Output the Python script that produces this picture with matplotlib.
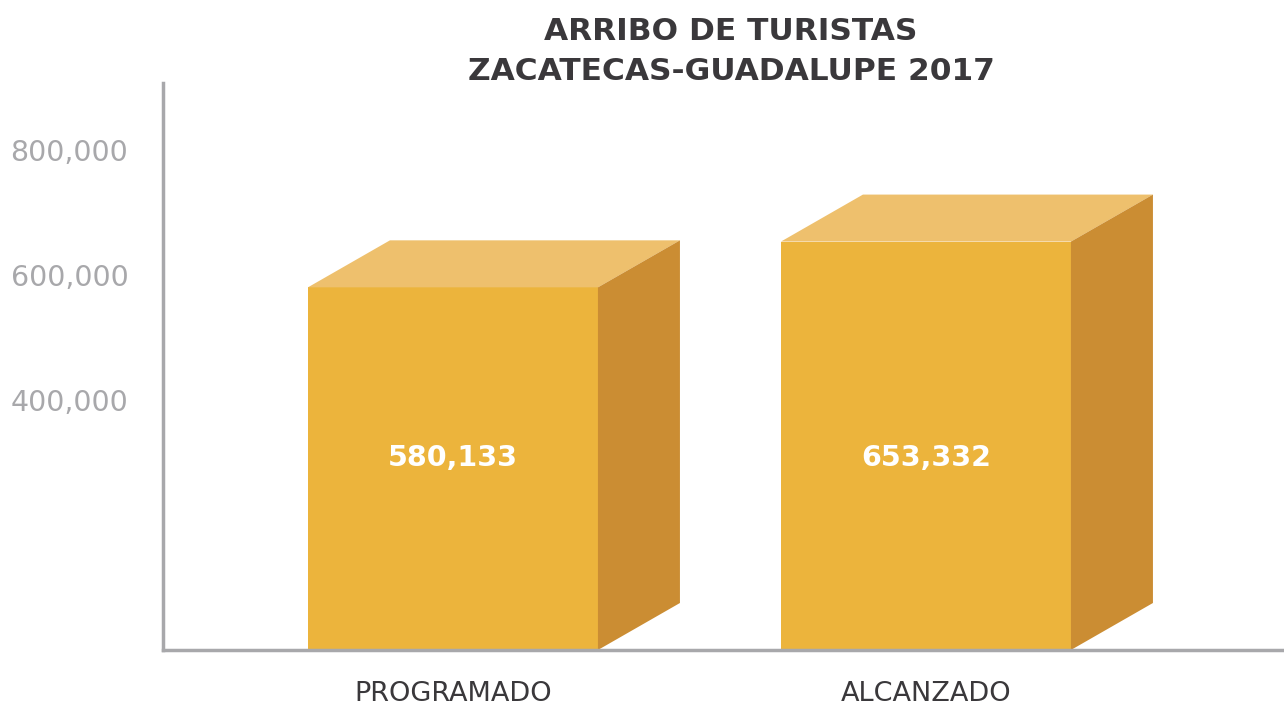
import matplotlib.pyplot as plt
from matplotlib.patches import Polygon

categories = ["PROGRAMADO", "ALCANZADO"]
values = [580133, 653332]
value_labels = ["580,133", "653,332"]
tick_values = [400000, 600000, 800000]
tick_labels = ["400,000", "600,000", "800,000"]

front_color = "#ECB43C"
top_color = "#EEC06D"
side_color = "#CB8D33"
axis_gray = "#A8A8AB"
text_dark = "#3A383B"

W, H, DPI = 1284, 707, 100
fig = plt.figure(figsize=(W / DPI, H / DPI), dpi=DPI)

# axes box in pixels: spine at x=163, baseline at y=650, top at y=83
left, bottom, top = 163, 650, 83
ax = fig.add_axes([left / W, (H - bottom) / H, (W - left) / W, (bottom - top) / H])

ymax = 907000
xmin, xmax = -0.613, 1.757
ax.set_xlim(xmin, xmax)
ax.set_ylim(0, ymax)

px_x = (W - left) / (xmax - xmin)     # pixels per x unit
px_y = (bottom - top) / ymax          # pixels per y unit
bar_w = 290 / px_x
dx = 82 / px_x
dy = 47 / px_y

for i, v in enumerate(values):
    x0 = i - bar_w / 2
    x1 = i + bar_w / 2
    ax.add_patch(Polygon([(x0, 0), (x1, 0), (x1, v), (x0, v)],
                         closed=True, facecolor=front_color, edgecolor="none"))
    ax.add_patch(Polygon([(x0, v), (x1, v), (x1 + dx, v + dy), (x0 + dx, v + dy)],
                         closed=True, facecolor=top_color, edgecolor="none"))
    ax.add_patch(Polygon([(x1, 0), (x1 + dx, dy), (x1 + dx, v + dy), (x1, v)],
                         closed=True, facecolor=side_color, edgecolor="none"))
    ax.text(i, 192 / px_y, value_labels[i], ha="center", va="center",
            color="white", fontsize=20.5, fontweight="bold")

for s in ["top", "right"]:
    ax.spines[s].set_visible(False)
for s in ["left", "bottom"]:
    ax.spines[s].set_color(axis_gray)
    ax.spines[s].set_linewidth(2.5)

ax.set_xticks(range(len(categories)))
ax.set_xticklabels(categories, color=text_dark, fontsize=19.5)
ax.set_yticks(tick_values)
ax.set_yticklabels(tick_labels, color=axis_gray, fontsize=20.5)
ax.tick_params(axis="x", length=0, pad=22)
ax.tick_params(axis="y", length=0, pad=25)

fig.text(731 / W, 1 - 32 / H, "ARRIBO DE TURISTAS", ha="center", va="center",
         fontsize=22.5, fontweight="bold", color=text_dark)
fig.text(731 / W, 1 - 72 / H, "ZACATECAS-GUADALUPE 2017", ha="center", va="center",
         fontsize=22.5, fontweight="bold", color=text_dark)

fig.savefig("out.png", dpi=DPI)
